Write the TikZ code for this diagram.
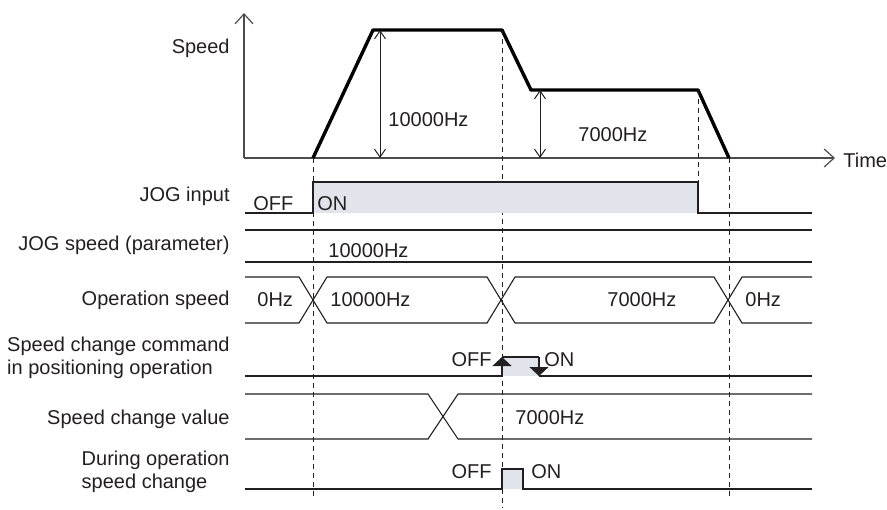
\documentclass[tikz,border=0pt]{standalone}
\usepackage{fontspec}
\setmainfont{Liberation Sans}
\usepackage{xcolor}
\usetikzlibrary{arrows.meta,positioning}
\definecolor{inkgray}{RGB}{35,31,32}
\definecolor{pulsefill}{RGB}{225,228,234}

\begin{document}
\begin{tikzpicture}[x=0.5pt, y=-0.5pt, every node/.style={font=\fontsize{10}{11.5}\selectfont, inner sep=0pt, text=inkgray}]

    % Styles for the timing chart
    \tikzset{
        signal/.style={draw=inkgray, line width=0.55pt},
        profile/.style={draw=black, line width=1.7pt, line join=round},
        timemark/.style={draw=inkgray, line width=0.5pt, dash pattern=on 2.5pt off 2pt},
        axis/.style={-{Straight Barb[length=5pt,width=9pt]}, draw=black!70, line width=0.6pt},
        dimension/.style={{Straight Barb[length=4pt,width=5.5pt]}-{Straight Barb[length=4pt,width=5.5pt]}, draw=inkgray, line width=0.5pt},
        pulse/.style={fill=pulsefill},
        rowlabel/.style={anchor=east, align=left},
        pulsearrow/.style={signal, -{Triangle[length=4.5pt,width=9.5pt]}}
    }
    \useasboundingbox (0,0) rectangle (887,509);

    % Speed graph
    \coordinate (origin) at (244,158);
    \draw[axis] (origin) -- (244,13);
    \draw[axis] (origin) -- (835,158);
    \node[anchor=west] (timelbl) at (843,160) {Time};
    \node[rowlabel] (speedlbl) at (230,48) {Speed};
    \draw[profile] (313,158) -- (373,30) -- (502,30) -- (531,90) -- (698,90) -- (729,158);
    \draw[dimension] (380,30) -- (380,158);
    \node[anchor=west] (highhz) at (388,120) {10000Hz};
    \draw[dimension] (540,90) -- (540,158);
    \node[anchor=west] (lowhz) at (578,135) {7000Hz};

    % Timing marks
    \draw[timemark] (313,158) -- (313,498);
    \draw[timemark] (502,30) -- (502,508);
    \draw[timemark] (698,90) -- (698,182);
    \draw[timemark] (729,158) -- (729,498);

    % JOG input
    \node[rowlabel] (jog) at (230,196) {JOG input};
    \fill[pulse] (313,182) rectangle (698,213);
    \draw[signal] (245,213) -- (313,213) -- (313,182) -- (698,182) -- (698,213) -- (812,213);
    \node[anchor=west] (jogoff) at (253,204) {OFF};
    \node[anchor=west] (jogon) at (317,204) {ON};

    % JOG speed (parameter)
    \node[rowlabel] (jogspeed) at (230,245) {JOG speed (parameter)};
    \draw[signal] (245,230) -- (812,230);
    \draw[signal] (245,262) -- (812,262);
    \node[anchor=west] (jogspeedhz) at (328,251) {10000Hz};

    % Operation speed
    \node[rowlabel] (opspeed) at (230,300) {Operation speed};
    \draw[signal] (245,277) -- (299,277) -- (327,323) -- (487,323) -- (515,277) -- (714,277) -- (742,323) -- (812,323);
    \draw[signal] (245,323) -- (299,323) -- (327,277) -- (487,277) -- (515,323) -- (714,323) -- (742,277) -- (812,277);
    \node[anchor=west] (opzero) at (257,300) {0Hz};
    \node[anchor=west] (ophigh) at (330,300) {10000Hz};
    \node[anchor=west] (oplow) at (607,300) {7000Hz};
    \node[anchor=west] (opend) at (745,300) {0Hz};

    % Speed change command in positioning operation
    \node[rowlabel] (chgcmd) at (230,358) {Speed change command\\in positioning operation};
    \fill[pulse] (502,357) rectangle (539,376);
    \draw[signal] (245,376) -- (502,376);
    \draw[pulsearrow] (502,376) -- (502,357);
    \draw[signal] (502,357) -- (539,357);
    \draw[pulsearrow] (539,357) -- (539,376);
    \draw[signal] (539,376) -- (812,376);
    \node[anchor=east] (cmdoff) at (492,360) {OFF};
    \node[anchor=west] (cmdon) at (544,360) {ON};

    % Speed change value
    \node[rowlabel] (chgval) at (230,419) {Speed change value};
    \draw[signal] (245,394) -- (428,394) -- (458,439) -- (812,439);
    \draw[signal] (245,439) -- (428,439) -- (458,394) -- (812,394);
    \node[anchor=west] (chgvalhz) at (515,418) {7000Hz};

    % During operation speed change
    \node[rowlabel] (chgflag) at (230,472) {During operation\\speed change};
    \fill[pulse] (502,469) rectangle (523,489);
    \draw[signal] (245,489) -- (502,489) -- (502,469) -- (523,469) -- (523,489) -- (812,489);
    \node[anchor=east] (flagoff) at (492,472) {OFF};
    \node[anchor=west] (flagon) at (531,472) {ON};

\end{tikzpicture}
\end{document}
